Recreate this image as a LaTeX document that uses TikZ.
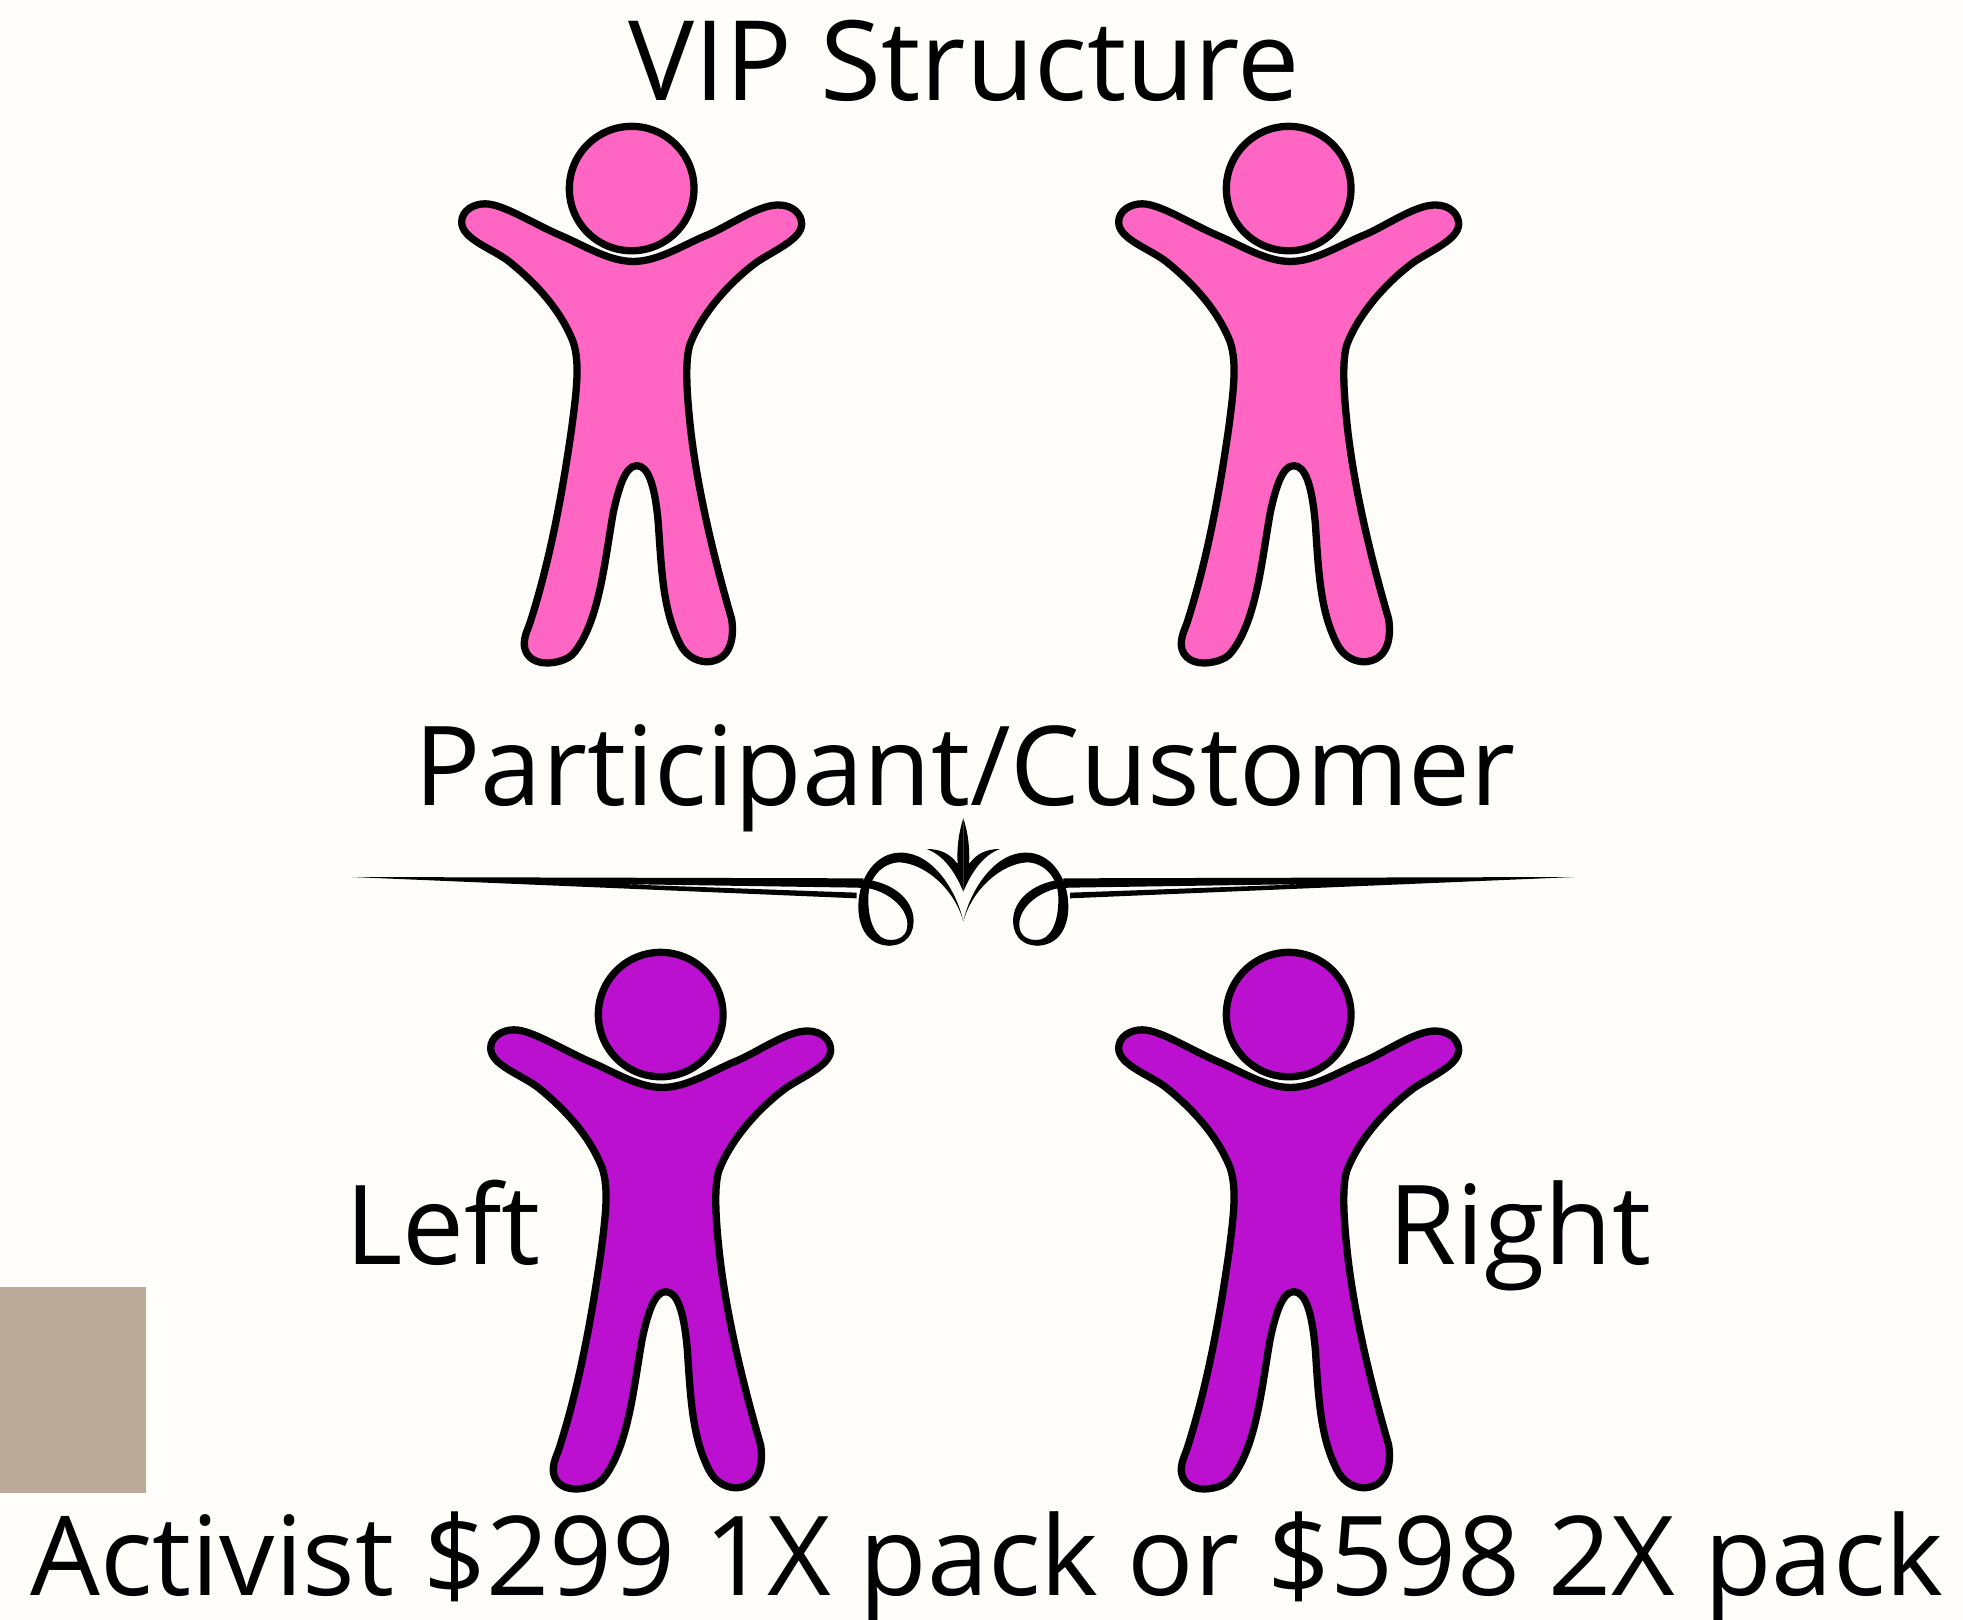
\documentclass[tikz,border=0pt]{standalone}
\usepackage{fontspec}
\setmainfont{Open Sans}
\definecolor{bgcream}{HTML}{FFFDF9}
\definecolor{pinkfig}{HTML}{FF66C4}
\definecolor{purplefig}{HTML}{BC10D0}
\definecolor{tanbox}{HTML}{BBA999}
\tikzset{
  label text/.style={anchor=base,inner sep=0pt,font=\fontsize{110.3}{130}\selectfont,text=black},
  person/.pic={
    \begin{scope}[x=0.33333pt,y=-0.38168pt,line width=7.3pt]
    \path[fill=\figcol,draw=black,line join=round]
      (580,423) .. controls (650,423) and (720,385) .. (790,358)
      .. controls (860,335) and (950,275) .. (1015,275)
      .. controls (1060,275) and (1085,300) .. (1085,325)
      .. controls (1085,365) and (1000,395) .. (950,425)
      .. controls (880,470) and (790,550) .. (750,640)
      .. controls (735,680) and (740,760) .. (748,830)
      .. controls (765,990) and (815,1180) .. (875,1360)
      .. controls (885,1420) and (865,1470) .. (800,1472)
      .. controls (760,1470) and (735,1450) .. (720,1425)
      .. controls (670,1340) and (665,1240) .. (655,1110)
      .. controls (645,1010) and (625,958) .. (590,958)
      .. controls (555,958) and (535,1020) .. (520,1080)
      .. controls (495,1200) and (480,1360) .. (405,1445)
      .. controls (385,1470) and (340,1475) .. (320,1475)
      .. controls (275,1475) and (250,1450) .. (253,1420)
      .. controls (255,1400) and (262,1390) .. (270,1370)
      .. controls (340,1180) and (375,980) .. (395,860)
      .. controls (410,760) and (420,690) .. (400,635)
      .. controls (360,545) and (280,475) .. (210,425)
      .. controls (160,390) and (65,365) .. (65,320)
      .. controls (65,290) and (100,272) .. (135,272)
      .. controls (190,272) and (280,325) .. (370,358)
      .. controls (440,385) and (510,423) .. cycle;
    \path[fill=\figcol,draw=black] (575,232) ellipse [x radius=187,y radius=163];
    \end{scope}
  }
}
\begin{document}
\begin{tikzpicture}[x=1pt,y=-1pt]
\useasboundingbox (0,0) rectangle (1963,1620);
\fill[bgcream] (0,0) rectangle (1963,1620);
\fill[tanbox] (0,1287) rectangle (146,1493);
\def\figcol{pinkfig}
\pic (fig1) at (440,100) {person};
\pic (fig2) at (1097,100) {person};
\def\figcol{purplefig}
\pic (fig3) at (469,926) {person};
\pic (fig4) at (1097,926) {person};
\node[label text,font=\fontsize{111}{130}\selectfont] (title) at (964,100) {VIP Structure};
\node[label text] (part) at (965,805) {Participant/Customer};
\node[label text] (left) at (443,1264) {Left};
\node[label text] (right) at (1520,1264) {Right};
\node[label text] (bottom) at (987,1595) {Activist \$299 1X pack or \$598 2X pack};
\foreach \s in {1,-1}{
\begin{scope}[shift={(963.33,800)},xscale=\s]
\begin{scope}[x=0.33333pt,y=-0.33333pt,shift={(-430,0)}]
  % bars
  \fill (-1404,231) -- (130,235) -- (130,265) -- (115,263) -- (-610,252) -- (110,278) -- (110,295) -- cycle;
  % ribbon: arch and back of loop
  \fill (430,365) .. controls (410,270) and (335,155) .. (240,158)
     .. controls (170,158) and (115,230) .. (115,320)
     .. controls (115,390) and (150,437) .. (210,437)
     -- (210,420) .. controls (170,420) and (143,370) .. (145,290)
     .. controls (147,230) and (190,187) .. (240,187)
     .. controls (318,192) and (405,270) .. cycle;
  % ribbon: front of loop
  \fill (205,437) .. controls (260,437) and (285,400) .. (280,350)
     .. controls (272,290) and (210,245) .. (130,238)
     -- (130,262) .. controls (200,270) and (260,320) .. (262,370)
     .. controls (264,405) and (240,422) .. (205,420) -- cycle;
  % central flower, half
  \fill (430,55) .. controls (445,100) and (450,150) .. (447,192)
     .. controls (470,160) and (500,147) .. (540,147)
     .. controls (490,165) and (455,215) .. (430,275) -- cycle;
\end{scope}
\end{scope}
}
\end{tikzpicture}
\end{document}
